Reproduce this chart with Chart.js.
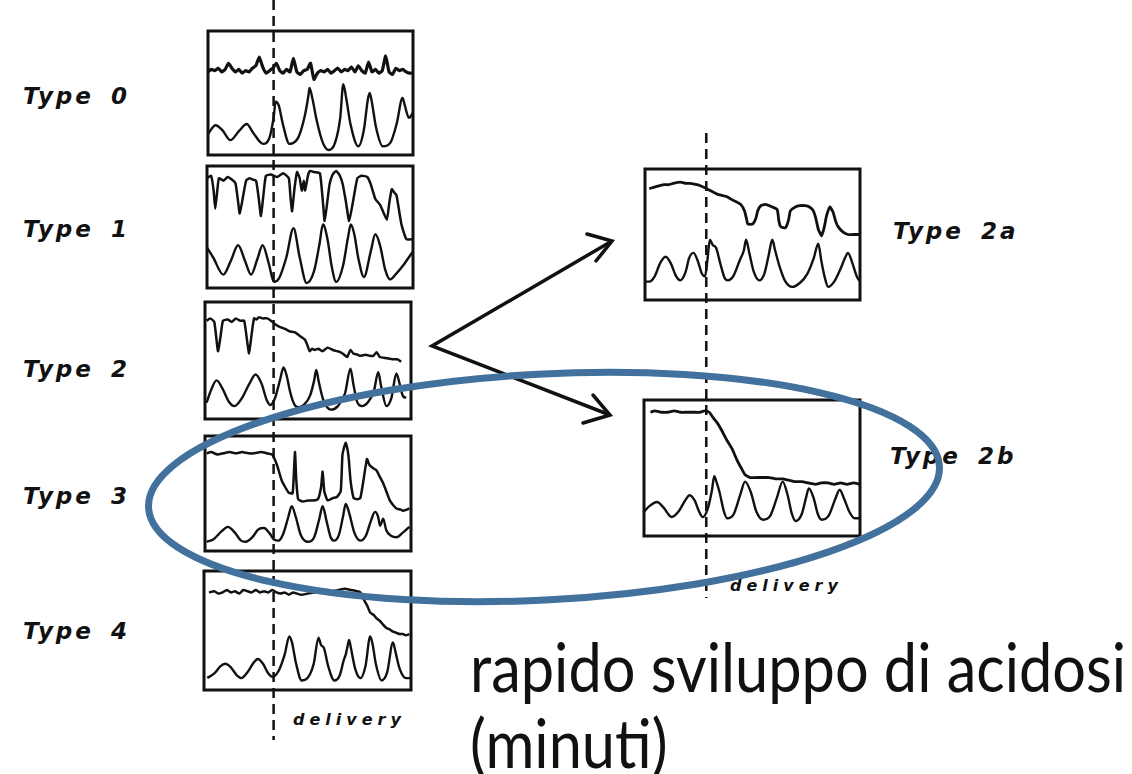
<!DOCTYPE html>
<html>
<head>
<meta charset="utf-8">
<script src="https://cdn.jsdelivr.net/npm/chart.js@4.4.1/dist/chart.umd.min.js"></script>
<style>
  body { margin: 0; background: #fff; }
  #page { position: relative; width: 1132px; height: 774px; overflow: hidden; background: #fff; }
  .panel { position: absolute; }
  .type { position: absolute; font-family: "DejaVu Sans", sans-serif; font-weight: bold; font-style: oblique;
          font-size: 23px; line-height: 23px; letter-spacing: 3px; word-spacing: 6px; color: #111; white-space: nowrap; }
  .delivery { position: absolute; font-family: "DejaVu Sans", sans-serif; font-weight: bold; font-style: oblique;
          font-size: 16px; line-height: 16px; letter-spacing: 5px; color: #111; white-space: nowrap; }
  .caption { position: absolute; left: 470px; font-family: Lato, "Open Sans", sans-serif; font-size: 68px; line-height: 68px;
          color: #111; white-space: nowrap; transform: scaleX(0.875); transform-origin: 0 0; }
  #overlay { position: absolute; left: 0; top: 0; }
</style>
</head>
<body>
<div id="page">
  <div class="type" style="left:23px; top:85px;">Type 0</div>
  <div class="type" style="left:23px; top:218px;">Type 1</div>
  <div class="type" style="left:23px; top:358px;">Type 2</div>
  <div class="type" style="left:23px; top:485px;">Type 3</div>
  <div class="type" style="left:23px; top:620px;">Type 4</div>
  <div class="type" style="left:893px; top:220px;">Type 2a</div>
  <div class="type" style="left:890px; top:445px;">Type 2b</div>
  <div class="delivery" style="left:293px; top:712px;">delivery</div>
  <div class="delivery" style="left:730px; top:578px;">delivery</div>
  <div class="caption" style="top:632px;">rapido sviluppo di acidosi</div>
  <div class="caption" style="top:708px;">(minuti)</div>
  <svg id="overlay" width="1132" height="774"></svg>
</div>

<script>
// delivery time, in percent of each panel's time axis
var deliveryLeft = 32;
var deliveryRight = 28.5;

// Type 0: FHR sampled evenly over the panel, contractions as [time, level]
var type0Fhr = [67, 69, 68, 70, 67, 69, 74, 70, 67, 69, 66, 68, 67, 70, 72, 79, 71, 66, 68, 70,
                74, 68, 66, 69, 67, 78, 67, 65, 68, 69, 74, 61, 66, 68, 67, 69, 66, 68, 70, 67,
                69, 68, 71, 67, 72, 68, 66, 75, 67, 69, 66, 68, 80, 67, 65, 70, 68, 69, 67, 66, 66];
var type0Uc = [[0,17],[3.7,24],[7,20],[10.9,12],[15,19],[18.9,25],[22,18],[26.9,9],[30,14],[32,30],[33,43],
               [34.5,40],[36.5,25],[39.7,9],[44,14],[47,30],[49,48],[49.5,54],[51,45],[53,28],[56,10],[58.9,4],
               [62,10],[64.5,30],[66,57],[67.5,45],[69.5,25],[73.3,7],[76,20],[78,45],[78.9,50],[80,42],[82,22],
               [85.3,7],[89,10],[92,25],[94.9,46],[96,40],[98,30],[100,34]];

// Type 1
var type1Fhr = [[0,90],[2,92],[3.2,80],[4,65],[5,80],[5.8,90],[8,88],[10,91],[12,89],[13.8,86],[15,72],[15.9,61],
                [17.5,75],[19,88],[20.6,90],[22,89],[23.8,88],[25,75],[26.2,59],[27.5,78],[28.6,92],[31,93],[34,91],
                [37,94],[39.7,90],[40.5,75],[41.3,63],[42.5,82],[43.7,95],[45,90],[46,80],[47,88],[47.6,80],[49,92],
                [50,96],[52,95],[54.8,94],[56.3,70],[57.1,55],[58.5,72],[59.5,85],[61,93],[62.7,96],[64.5,92],
                [65.9,85],[67.5,70],[69,55],[71,72],[73,90],[75,92],[77.8,91],[79.5,85],[81.7,73],[84.1,68],
                [87.3,56],[88.5,70],[89.7,81],[91,78],[92,76],[94.4,52],[96.8,40],[100,40]];
var type1Uc = [[0,33],[3,25],[7.9,11],[11.5,22],[15.1,35],[18.5,22],[21.4,11],[24.5,24],[27,35],[30,20],[32.5,5],
               [35,8],[38.5,25],[42,49],[45,25],[48.4,4],[52,14],[54.5,35],[56.3,52],[58.5,40],[60.5,18],[62.7,5],
               [66,18],[68.5,42],[69.8,52],[71.5,44],[73.5,24],[76.2,9],[79.5,30],[81.7,44],[84,35],[86.5,15],
               [88.9,7],[92,12],[95,18],[97.5,24],[100,30]];

// Type 2
var type2Fhr = [[0.8,84],[2.5,86],[4.5,83],[6.3,58],[7.5,70],[8.7,84],[11,85],[13,83],[15,86],[17,84],[19,84],
                [20.2,70],[21.4,56],[22.6,72],[23.8,86],[25,85],[26.2,87],[28,86],[30.2,86],[32,84],[34.1,81],
                [36,79],[38.9,77],[41,75],[43.7,74],[46,71],[48.4,68],[49.5,64],[50.8,58],[52,60],[53.2,59],
                [55,60],[57,58],[59.5,61],[62,59],[64,58],[65.9,57],[67.5,55],[69,53],[70.6,59],[72,56],[74,55],
                [75.4,54],[78,55],[80,54],[81.7,54],[83.3,57],[84.9,53],[88,52],[91.3,51],[93.5,51],[95.2,49]];
var type2Uc = [[0.8,14],[3,25],[5.6,33],[8.5,26],[11.5,15],[14.3,11],[18,18],[21.5,30],[24.6,38],[27.5,30],
               [30,16],[31.7,12],[34,18],[36.5,34],[38.1,44],[39.5,38],[41.5,22],[43.5,12],[45.2,10],[48,12],
               [51,20],[53,33],[54,42],[55.2,32],[57.5,16],[61.1,8],[64.5,11],[68,22],[70.6,43],[72,30],[74,14],
               [76.2,11],[79,14],[82,24],[84.1,40],[85.5,28],[88.1,11],[90.5,18],[92.9,39],[94.5,30],[96,20],[97.6,18]];

// Type 3
var type3Fhr = [[0.8,85],[3,86],[6,84],[9,85],[12,86],[15,85],[18,86],[21,85],[24,85],[27,86],[30,85],[32.5,84],
                [34.9,75],[37.3,61],[40.5,51],[42.5,50],[43.2,70],[43.7,86],[44.3,62],[45.2,45],[47.5,43],[50,44],
                [52.5,44],[54.8,45],[56.3,55],[57.1,69],[57.9,52],[59.5,44],[62,46],[64,47],[65.9,52],[66.7,83],
                [67.5,90],[68.3,94],[69.2,88],[69.8,80],[70.6,62],[71.4,52],[72.2,46],[74,45],[75.4,46],[76.8,60],
                [78.6,80],[79.5,76],[80.2,74],[81.7,72],[83.3,70],[85,64],[86.5,59],[88,52],[89.7,44],[91.3,40],
                [92.9,37],[95,36],[96,35],[98,36],[99.2,37]];
var type3Uc = [[0.8,8],[4,10],[8,17],[11.1,21],[14.5,16],[17.5,9],[19.8,8],[23,12],[26,19],[28.6,20],[31.5,15],
               [33.5,10],[35.7,9],[38,15],[40.5,30],[42.1,39],[44,30],[46.5,14],[50,8],[53,12],[55.5,28],[57.1,39],
               [59,26],[61,12],[62.7,9],[65,14],[67,30],[68.3,41],[70,33],[72.5,16],[75.4,9],[78,13],[80.5,26],
               [82.5,34],[84,30],[85,22],[86.5,28],[88,18],[90.5,13],[92.9,12],[96,16],[99.2,21]];

// Type 4
var type4Fhr = [[2.4,82],[5,83],[7,81],[9,82],[11,84],[13,82],[15,83],[17,81],[19,84],[21,83],[23,82],[25,84],
                [27,82],[29,83],[31,82],[33,84],[35,82],[37,81],[39,82],[41,80],[43,82],[45,81],[47,80],[50,81],
                [53,82],[56,83],[59,84],[62,83],[65,84],[68,85],[71,84],[74,83],[75.6,82],[77.2,76],[78.8,71],
                [80.3,65],[82,63],[83.5,60],[85,58],[86.5,55],[88.2,52],[89.7,51],[91.3,49],[93,48],[94.5,47],
                [96.1,47],[97.5,46],[99.2,47]];
var type4Uc = [[1.6,10],[5,14],[8,20],[10.2,22],[13,19],[16,12],[18.1,10],[21,15],[24,23],[26,26],[28.5,22],
               [31,14],[33.1,11],[36,16],[39,30],[41.2,45],[42.5,40],[44.5,22],[47.2,8],[50,10],[53,22],[55.3,44],
               [56.5,38],[58,35],[60,20],[63,8],[65.5,12],[67.5,25],[68.5,30],[69.5,38],[70.1,42],[71,35],[73,18],
               [75.6,10],[78,20],[80.3,45],[81.5,38],[83,22],[85.8,8],[88.5,15],[91.3,40],[92.5,32],[94.5,18],
               [97.6,10],[100,10]];

// Type 2a
var type2aFhr = [[2,85],[4,86],[6,87],[8.9,88],[11,88],[13,89],[16.5,90],[19,89],[21,89],[24.1,88],[26,87],
                 [28.7,85],[31,83],[33.3,81],[35.5,80],[37.9,79],[40,77],[42.4,75],[44.5,73],[46.3,68],[47.2,62],
                 [47.8,58],[50.1,58],[51.5,62],[52.4,68],[53.9,72],[56,73],[59.2,71],[61.5,69],[62.3,60],[63.1,56],
                 [65.3,55],[66.2,58],[66.9,62],[67.6,68],[69.9,71],[72,72],[74.5,72],[76.5,71],[78.3,68],[79.5,62],
                 [80.6,54],[82.1,49],[83.3,55],[84.4,64],[86,71],[87.5,67],[88.7,60],[89.8,56],[92,52],[94.4,50],
                 [97,50],[100,50]];
var type2aUc = [[0,14],[2,14],[4.5,18],[7,28],[9.6,33],[12,28],[14.5,18],[16.5,15],[19,22],[20.5,32],[22.6,36],
                [24.5,30],[26.5,20],[27.9,18],[29,30],[30.2,46],[31.5,42],[33,40],[35,28],[37,17],[38.6,15],[41,18],
                [44,30],[46,38],[47,46],[48.5,36],[50.5,22],[53.1,15],[55.5,20],[57.5,34],[59.2,46],[60.5,38],
                [62.5,26],[65,15],[68.4,10],[72,13],[75.5,20],[78.5,32],[80.6,43],[82,30],[83.5,18],[85.2,10],
                [88,14],[91,24],[93,32],[94.4,36],[96.5,28],[98.5,18],[100,14]];

// Type 2b
var type2bFhr = [[3,91],[5,92],[8,91],[11,91],[14,92],[17,91],[20,91],[23,91],[26,91],[28,92],[30.2,91],[32,87],
                 [34,83],[36.2,77],[38.5,70],[40.8,64],[43,56],[45,50],[46.8,45],[49.1,43],[52,43],[55,43],[58,43],
                 [61,42],[64.2,42],[67,41],[70.2,40],[73,40],[76,39],[79.3,38],[82,39],[85.3,39],[88,38],[91,39],
                 [94,38],[97,39],[100,38]];
var type2bUc = [[0,18],[2.5,22],[6,25],[9,21],[12.8,14],[16,18],[19,26],[21.1,30],[23.5,26],[25.5,18],[27.2,14],
                [29.5,20],[31.5,34],[32.5,44],[33.5,40],[35,32],[37,18],[38.5,13],[41.5,16],[44.5,30],[46.8,40],
                [49.5,32],[52,18],[55.1,12],[58.5,15],[61.5,28],[64.2,40],[66.5,30],[68.5,16],[70.2,11],[73,16],
                [75,28],[76.3,35],[78.5,28],[80.5,16],[82.3,12],[85.5,15],[88.5,27],[90.6,34],[92.5,28],[95,18],
                [97.5,13],[100,13]];

function toPoints(list) {
  return list.map(function(p) { return { x: p[0], y: p[1] }; });
}
function evenPoints(values) {
  return values.map(function(v, i) { return { x: i * 100 / (values.length - 1), y: v }; });
}

var framePlugin = {
  id: 'frame',
  afterDraw: function(chart) {
    var a = chart.chartArea, ctx = chart.ctx;
    ctx.save();
    ctx.strokeStyle = '#111';
    ctx.lineWidth = 3;
    ctx.strokeRect(a.left, a.top, a.right - a.left, a.bottom - a.top);
    ctx.restore();
  }
};

var panels = [
  { left: 206, top: 29,  width: 209, height: 128, fhr: evenPoints(type0Fhr), uc: toPoints(type0Uc), fhrWidth: 3.2 },
  { left: 205, top: 164, width: 210, height: 126, fhr: toPoints(type1Fhr),  uc: toPoints(type1Uc) },
  { left: 203, top: 300, width: 210, height: 121, fhr: toPoints(type2Fhr),  uc: toPoints(type2Uc) },
  { left: 203, top: 434, width: 210, height: 119, fhr: toPoints(type3Fhr),  uc: toPoints(type3Uc) },
  { left: 202, top: 569, width: 211, height: 123, fhr: toPoints(type4Fhr),  uc: toPoints(type4Uc) },
  { left: 643, top: 167, width: 219, height: 135, fhr: toPoints(type2aFhr), uc: toPoints(type2aUc), fhrWidth: 2.8 },
  { left: 642, top: 398, width: 220, height: 140, fhr: toPoints(type2bFhr), uc: toPoints(type2bUc), fhrWidth: 2.8 }
];

var page = document.getElementById('page');
var overlay = document.getElementById('overlay');
var charts = [];

panels.forEach(function(p) {
  var canvas = document.createElement('canvas');
  canvas.className = 'panel';
  canvas.width = p.width;
  canvas.height = p.height;
  canvas.style.left = p.left + 'px';
  canvas.style.top = p.top + 'px';
  page.insertBefore(canvas, overlay);

  charts.push(new Chart(canvas.getContext('2d'), {
    type: 'line',
    data: {
      datasets: [
        { data: p.fhr, borderColor: '#111', borderWidth: p.fhrWidth || 2.5, tension: 0.15 },
        { data: p.uc, borderColor: '#111', borderWidth: 2.4, cubicInterpolationMode: 'monotone' }
      ]
    },
    options: {
      responsive: false,
      devicePixelRatio: 1,
      animation: false,
      layout: { padding: 2 },
      elements: { point: { radius: 0 } },
      plugins: { legend: { display: false }, tooltip: { enabled: false } },
      scales: {
        x: { type: 'linear', min: 0, max: 100, display: false },
        y: { min: 0, max: 100, display: false }
      }
    },
    plugins: [framePlugin]
  }));
});

// dashed "delivery" lines, placed through the panel time scales
var xLeft = panels[0].left + charts[0].scales.x.getPixelForValue(deliveryLeft);
var xRight = panels[5].left + charts[5].scales.x.getPixelForValue(deliveryRight);

var NS = 'http://www.w3.org/2000/svg';
function svgEl(tag, attrs) {
  var el = document.createElementNS(NS, tag);
  for (var k in attrs) el.setAttribute(k, attrs[k]);
  overlay.appendChild(el);
  return el;
}
svgEl('line', { x1: xLeft, y1: 0, x2: xLeft, y2: 740, stroke: '#111', 'stroke-width': 2.5, 'stroke-dasharray': '10 6' });
svgEl('line', { x1: xRight, y1: 133, x2: xRight, y2: 598, stroke: '#111', 'stroke-width': 2.5, 'stroke-dasharray': '10 6' });

// arrows from Type 2 to the two sub-types
svgEl('path', { d: 'M612,241 L432,346 L610,415', fill: 'none', stroke: '#111', 'stroke-width': 3.5, 'stroke-linejoin': 'miter' });
svgEl('path', { d: 'M587,234 L612,241 L596,261', fill: 'none', stroke: '#111', 'stroke-width': 3.5, 'stroke-linecap': 'round' });
svgEl('path', { d: 'M583,423 L610,415 L593,395', fill: 'none', stroke: '#111', 'stroke-width': 3.5, 'stroke-linecap': 'round' });

// highlight ellipse around Type 3 and Type 2b
svgEl('ellipse', { cx: 544, cy: 487, rx: 396, ry: 113, transform: 'rotate(-3 544 487)',
                   fill: 'none', stroke: '#41719c', 'stroke-width': 7 });
</script>
</body>
</html>
